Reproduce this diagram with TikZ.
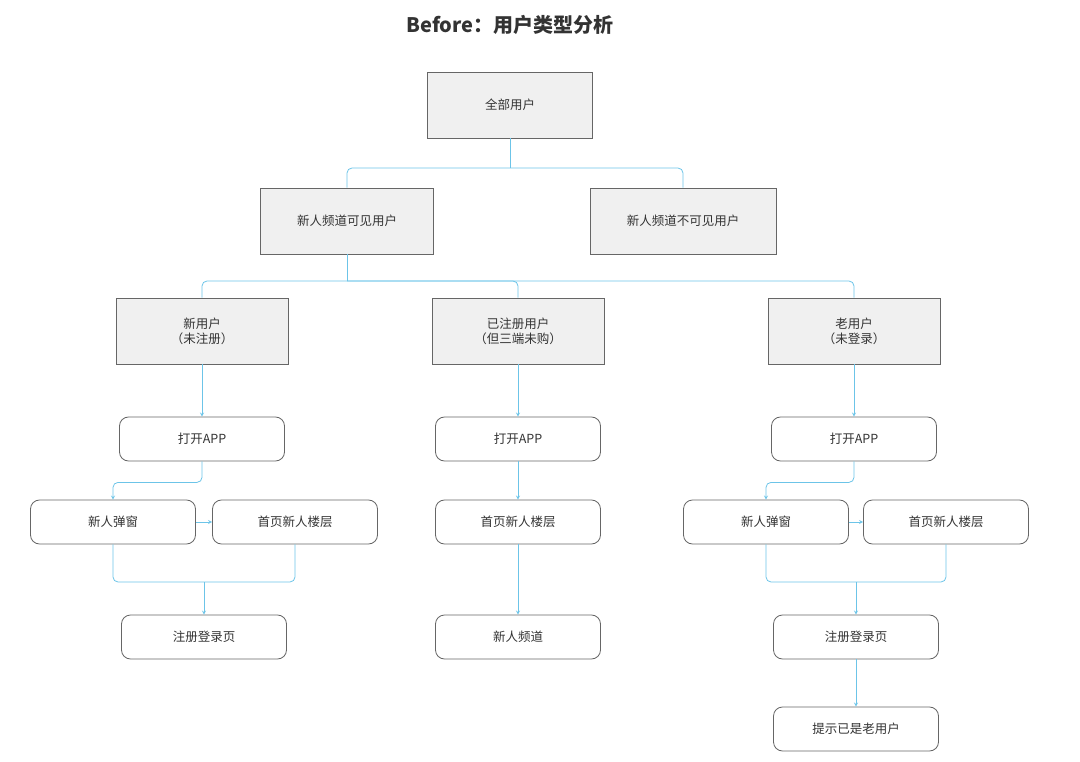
\documentclass[tikz,border=0pt]{standalone}
\usepackage{fontspec}
\setmainfont{Noto Sans CJK SC}
\usetikzlibrary{positioning,calc}
\definecolor{link}{HTML}{6CC4E8}
\definecolor{txt}{HTML}{333333}
\begin{document}
\begin{tikzpicture}[x=1pt,y=-1pt,
  every node/.append style={text=txt,font=\fontsize{12.5}{15}\selectfont,align=center},
  every path/.append style={line width=0.8pt}]
  \tikzstyle{group} = [draw=black!60,fill=black!6,minimum width=170pt,minimum height=66pt,inner sep=0pt]
  \tikzstyle{flow} = [draw=black!60,fill=white,rounded corners=9pt,minimum width=165pt,minimum height=44pt,inner sep=0pt]
  \tikzstyle{link} = [draw=link,rounded corners=5pt]
  \tikzstyle{arr} = [link,->,>=stealth]
  \useasboundingbox (0,0) rectangle (1080,762);
  \node (title) at (510,25) {\fontsize{20}{24}\selectfont\bfseries Before：用户类型分析};
  \node (1_1) [group,minimum width=165pt] at (510,105) {全部用户};
  \node (1_2) [group,minimum width=173pt] at (347,221) {新人频道可见用户};
  \node (1_3) [group,minimum width=186pt] at (683,221) {新人频道不可见用户};
  \node (2_1) [group,minimum width=172pt] at (202,331) {新用户\\（未注册）};
  \node (2_2) [group,minimum width=172pt] at (518,331) {已注册用户\\（但三端未购）};
  \node (2_3) [group,minimum width=172pt] at (854,331) {老用户\\（未登录）};
  % left branch
  \node (3_1) [flow] at (202,439) {打开APP};
  \node (3_2) [flow] at (113,522) {新人弹窗};
  \node (3_3) [flow] at (295,522) {首页新人楼层};
  \node (3_4) [flow] at (204,637) {注册登录页};
  % middle branch
  \node (4_1) [flow] at (518,439) {打开APP};
  \node (4_2) [flow] at (518,522) {首页新人楼层};
  \node (4_3) [flow] at (518,637) {新人频道};
  % right branch
  \node (5_1) [flow] at (854,439) {打开APP};
  \node (5_2) [flow] at (766,522) {新人弹窗};
  \node (5_3) [flow] at (946,522) {首页新人楼层};
  \node (5_4) [flow] at (856,637) {注册登录页};
  \node (5_5) [flow] at (856,729) {提示已是老用户};
  \coordinate (j1) at (510,168);
  \coordinate (j2) at (347,281);
  \coordinate (j3) at (204,582);
  \coordinate (j4) at (856,582);
  \draw[link] (1_1.south) -- (j1);
  \draw[link] (j1) -| (1_2.north);
  \draw[link] (j1) -| (1_3.north);
  \draw[link] (1_2.south) -- (j2);
  \draw[link] (j2) -| (2_1.north);
  \draw[link] (j2) -| (2_2.north);
  \draw[link] (j2) -| (2_3.north);
  \draw[arr] (2_1) -- (3_1);
  \draw[arr] (3_1.south) -- ++(0,21) -| (3_2.north);
  \draw[arr] (3_2) -- (3_3);
  \draw[link] (3_2.south) |- (j3) -| (3_3.south);
  \draw[arr] (j3) -- (3_4);
  \draw[arr] (2_2) -- (4_1);
  \draw[arr] (4_1) -- (4_2);
  \draw[arr] (4_2) -- (4_3);
  \draw[arr] (2_3) -- (5_1);
  \draw[arr] (5_1.south) -- ++(0,21) -| (5_2.north);
  \draw[arr] (5_2) -- (5_3);
  \draw[link] (5_2.south) |- (j4) -| (5_3.south);
  \draw[arr] (j4) -- (5_4);
  \draw[arr] (5_4) -- (5_5);
\end{tikzpicture}
\end{document}
